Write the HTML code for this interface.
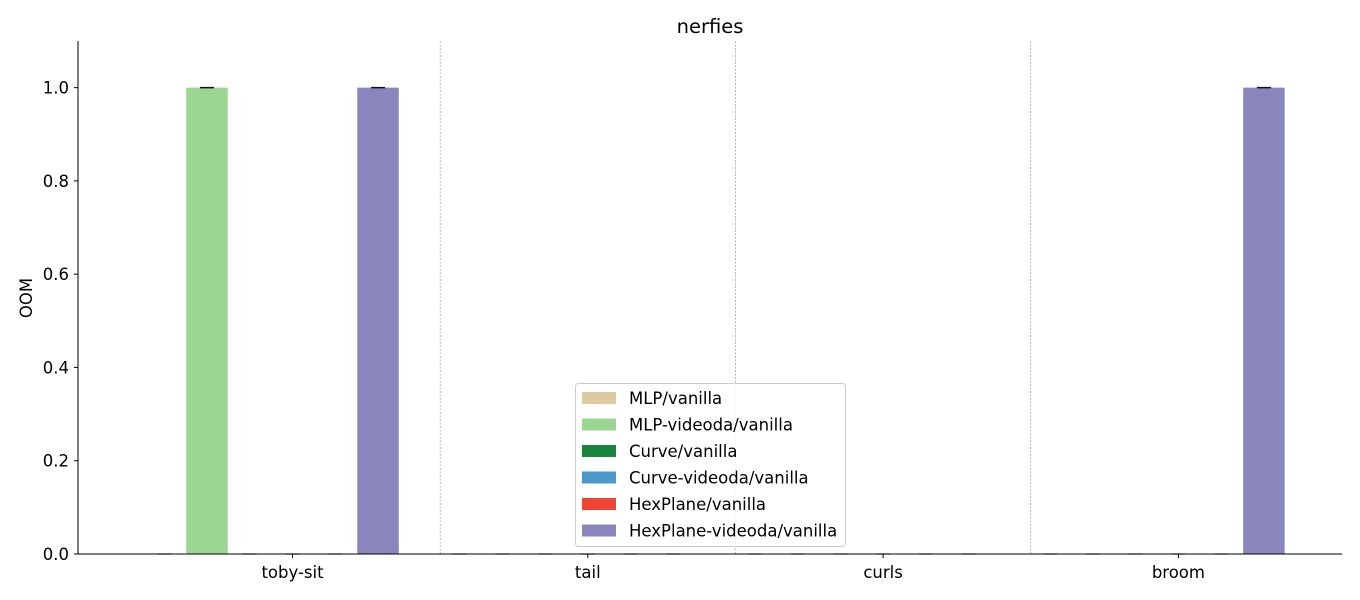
<!DOCTYPE html>
<html><head><meta charset="utf-8"><style>
body{margin:0;background:#fff}
svg{display:block;font-family:"DejaVu Sans","Liberation Sans",sans-serif}
</style></head><body>
<svg id="chart" width="1360" height="600">
<text x="710" y="33" font-size="19.5" text-anchor="middle">nerfies</text>
<g id="grid"></g><g id="bars"></g><g id="axes"></g><g id="legend"></g>
</svg>
<script>
const categories=["toby-sit","tail","curls","broom"];
const seriesNames=["MLP/vanilla","MLP-videoda/vanilla","Curve/vanilla","Curve-videoda/vanilla","HexPlane/vanilla","HexPlane-videoda/vanilla"];
const seriesColors=["#dfc9a0","#9bd693","#17843e","#4a98c9","#ee4433","#8886bd"];
const vMLP=[0,0,0,0];
const vMLPv=[1,0,0,0];
const vCurve=[0,0,0,0];
const vCurvev=[0,0,0,0];
const vHex=[0,0,0,0];
const vHexv=[1,0,0,1];
const yTicks=[0,0.2,0.4,0.6,0.8,1.0];
const series=[vMLP,vMLPv,vCurve,vCurvev,vHex,vHexv];
const NS="http://www.w3.org/2000/svg";
const L=78,R=1342,T=41,B=554,yMax=1.1;
const FS=16.5;
const y=v=>B-(v/yMax)*(B-T);
const groupX=k=>292.5+295.3*k;
const barX=(k,i)=>groupX(k)+(i-3)*42.75;
const BW=41.5;
function mk(tag,attrs,parent){const e=document.createElementNS(NS,tag);for(const a in attrs)e.setAttribute(a,attrs[a]);parent.appendChild(e);return e;}
const g=document.getElementById('grid'),bg=document.getElementById('bars'),ax=document.getElementById('axes'),lg=document.getElementById('legend');
for(let k=0;k<categories.length-1;k++){
 const sx=(groupX(k)+groupX(k+1))/2;
 const l=mk('line',{x1:sx,x2:sx,y1:T,y2:B,stroke:'#888','stroke-width':0.6,'stroke-dasharray':'2,1.5'},g);
 
 
}
series.forEach((vals,i)=>{vals.forEach((v,k)=>{
 const cx=barX(k,i);
 const r=mk('rect',{x:cx-BW/2,y:y(v),width:BW,height:B-y(v),fill:seriesColors[i]},bg);
 
 
 const c=mk('line',{x1:cx-7,x2:cx+7,y1:y(v),y2:y(v),stroke:v>0?'#111':'#aaa','stroke-width':1.5},bg);
 
 
});});
mk('line',{x1:L,x2:L,y1:T,y2:B,stroke:'#000','stroke-width':1},ax);
mk('line',{x1:L,x2:R,y1:B,y2:B,stroke:'#000','stroke-width':1},ax);
yTicks.forEach(t=>{
 mk('line',{x1:L-4,x2:L,y1:y(t),y2:y(t),stroke:'#000'},ax);
 const tx=mk('text',{x:L-9,y:y(t)+6,'font-size':FS,'text-anchor':'end'},ax);
 tx.textContent=t.toFixed(1);
 
 
});
categories.forEach((c,k)=>{
 mk('line',{x1:groupX(k),x2:groupX(k),y1:B,y2:B+4,stroke:'#000'},ax);
 const tx=mk('text',{x:groupX(k),y:B+24,'font-size':FS,'text-anchor':'middle'},ax);
 tx.textContent=c;
 
 
});
const yc=298;
const yt=mk('text',{x:32,y:yc,'font-size':FS,'text-anchor':'middle',transform:'rotate(-90 32 '+yc+')'},ax);
yt.textContent='OOM';


const box=mk('rect',{x:575.5,y:383.5,width:270,height:163,rx:3,fill:'rgba(255,255,255,0.8)',stroke:'#ccc'},lg);


seriesNames.forEach((n,i)=>{
 const yy=392+i*26.5;
 const p=mk('rect',{x:582,y:yy,width:34,height:12,fill:seriesColors[i]},lg);
 
 
 const tx=mk('text',{x:629,y:yy+12,'font-size':FS},lg);
 tx.textContent=n;
 
 
});
</script>
</body></html>
